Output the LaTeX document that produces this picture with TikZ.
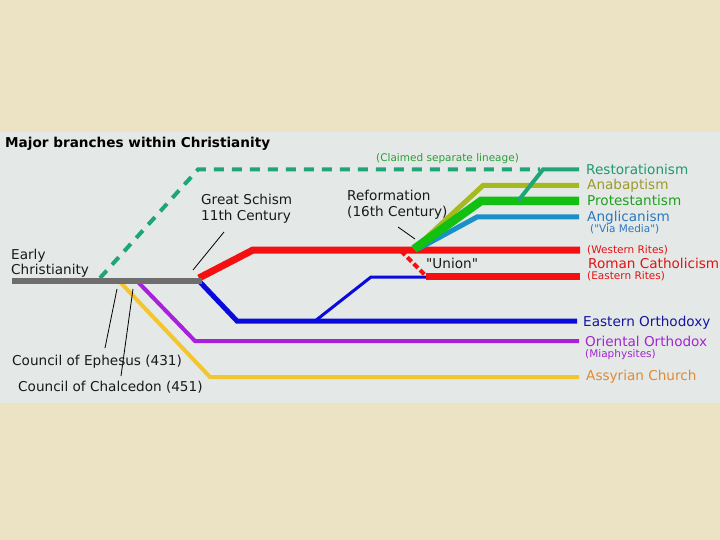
\documentclass[tikz,border=0pt]{standalone}
\usepackage{fontspec}
\setmainfont{DejaVu Sans}[Ligatures=TeXOff]
\definecolor{parch}{HTML}{ECE3C5}
\definecolor{panel}{HTML}{E4E8E7}
\definecolor{cgray}{HTML}{6E6E6E}
\definecolor{cred}{HTML}{F41010}
\definecolor{cblue}{HTML}{0A0ADC}
\definecolor{cpurple}{HTML}{A820DC}
\definecolor{cyellow}{HTML}{F4C62E}
\definecolor{cteal}{HTML}{1EA678}
\definecolor{colive}{HTML}{A6BA1E}
\definecolor{cgreen}{HTML}{12C012}
\definecolor{cangl}{HTML}{1A90C8}
\definecolor{tteal}{HTML}{1F9A6C}
\definecolor{tolive}{HTML}{A09828}
\definecolor{tgreen}{HTML}{1EA01E}
\definecolor{tangl}{HTML}{2A78C0}
\definecolor{tred}{HTML}{E01414}
\definecolor{tblue}{HTML}{1414A0}
\definecolor{tpurple}{HTML}{A426D0}
\definecolor{torange}{HTML}{E08A34}
\definecolor{tclaim}{HTML}{28A038}
\definecolor{tblack}{HTML}{1A1A1A}
\begin{document}
\begin{tikzpicture}[x=1pt,y=-1pt,
  lbl/.style={anchor=base west, inner sep=0pt, text=tblack, font=\fontsize{13.6}{16}\selectfont},
  smalllbl/.style={anchor=base west, inner sep=0pt, font=\fontsize{10.5}{12}\selectfont},
  titlelbl/.style={anchor=base west, inner sep=0pt, text=black, font=\fontsize{13.6}{16}\selectfont\bfseries},
  pointer/.style={draw=black, line width=0.8pt},
  branch/.style={line join=miter}]
\useasboundingbox (0,0) rectangle (720,540);
\fill[parch] (0,0) rectangle (720,540);
\fill[panel] (0,132) rectangle (720,403);

% coordinates
\coordinate (g0) at (12,281);
\coordinate (g1) at (202,281);
\coordinate (d0) at (100,278);
\coordinate (d1) at (198,169.5);
\coordinate (d2) at (540,169.5);
\coordinate (y0) at (120,282);
\coordinate (y1) at (210,377);
\coordinate (y2) at (579,377);
\coordinate (p0) at (138,282);
\coordinate (p1) at (195,341);
\coordinate (p2) at (579,341);
\coordinate (b0) at (199,281);
\coordinate (b1) at (237,321);
\coordinate (b2) at (577,321);
\coordinate (b3) at (315,321);
\coordinate (b4) at (371,277);
\coordinate (b5) at (427,277);
\coordinate (r0) at (199,278);
\coordinate (r1) at (253,250);
\coordinate (r2) at (580,250);
\coordinate (re0) at (426,276);
\coordinate (re1) at (580,276);
\coordinate (u0) at (401,251);
\coordinate (u1) at (425,275);
\coordinate (f0) at (414,249);
\coordinate (an1) at (483,185.5);
\coordinate (an2) at (579,185.5);
\coordinate (pr1) at (481,201);
\coordinate (pr2) at (579,201);
\coordinate (ag0) at (418,249);
\coordinate (ag1) at (477,217);
\coordinate (ag2) at (579,217);
\coordinate (rs0) at (518,201);
\coordinate (rs1) at (543,169.5);
\coordinate (rs2) at (579,169.5);

% branches
\draw[branch, cteal, line width=4pt, dash pattern=on 10pt off 8pt] (d0) -- (d1) -- (d2);
\draw[branch, cyellow, line width=4pt] (y0) -- (y1) -- (y2);
\draw[branch, cpurple, line width=4pt] (p0) -- (p1) -- (p2);
\draw[branch, cblue, line width=5pt] (b0) -- (b1) -- (b2);
\draw[branch, cblue, line width=3pt] (b3) -- (b4) -- (b5);
\draw[branch, cred, line width=7pt] (r0) -- (r1) -- (r2);
\draw[cred, line width=4pt, dash pattern=on 6pt off 3pt] (u0) -- (u1);
\draw[cred, line width=7pt] (re0) -- (re1);
\draw[branch, colive, line width=5pt] (f0) -- (an1) -- (an2);
\draw[branch, cangl, line width=5pt] (ag0) -- (ag1) -- (ag2);
\draw[branch, cgreen, line width=8.5pt] (f0) -- (pr1) -- (pr2);
\draw[branch, cteal, line width=4pt] (rs0) -- (rs1) -- (rs2);
\draw[cgray, line width=6.5pt] (g0) -- (g1);

% pointers
\coordinate (gs0) at (224,232);
\coordinate (gs1) at (193,270);
\draw[pointer] (gs0) -- (gs1);
\coordinate (rf0) at (398,227);
\coordinate (rf1) at (415,239);
\draw[pointer] (rf0) -- (rf1);
\coordinate (ce0) at (105,348);
\coordinate (ce1) at (117,289);
\draw[pointer] (ce0) -- (ce1);
\coordinate (cc0) at (121,376);
\coordinate (cc1) at (133,289);
\draw[pointer] (cc0) -- (cc1);

% labels
\node[titlelbl] (title) at (5,148) {Major branches within Christianity};
\node[lbl] (early1) at (11,259) {Early};
\node[lbl] (early2) at (11,274) {Christianity};
\node[lbl] (gs1t) at (201,205) {Great Schism};
\node[lbl] (gs2t) at (201,221) {11th Century};
\node[lbl] (rf1t) at (347,201) {Reformation};
\node[lbl] (rf2t) at (347,216) {(16th Century)};
\node[smalllbl, text=tclaim] (claim) at (376,162) {(Claimed separate lineage)};
\node[lbl, text=tteal] (rest) at (586,175) {Restorationism};
\node[lbl, text=tolive] (anab) at (587,190) {Anabaptism};
\node[lbl, text=tgreen] (prot) at (587,206) {Protestantism};
\node[lbl, text=tangl] (angl) at (587,222) {Anglicanism};
\node[smalllbl, text=tangl] (via) at (590,233) {("Via Media")};
\node[smalllbl, text=tred] (west) at (587,254) {(Western Rites)};
\node[lbl, text=tred] (rc) at (588,268) {Roman Catholicism};
\node[smalllbl, text=tred] (east) at (587,279) {(Eastern Rites)};
\node[lbl] (union) at (426,268) {"Union"};
\node[lbl, text=tblue] (eo) at (583,326) {Eastern Orthodoxy};
\node[lbl, text=tpurple] (oo) at (585,346) {Oriental Orthodox};
\node[smalllbl, text=tpurple] (mia) at (585,357) {(Miaphysites)};
\node[lbl, text=torange] (ac) at (586,380) {Assyrian Church};
\node[lbl] (eph) at (12,365) {Council of Ephesus (431)};
\node[lbl] (chal) at (18,391) {Council of Chalcedon (451)};
\end{tikzpicture}
\end{document}
